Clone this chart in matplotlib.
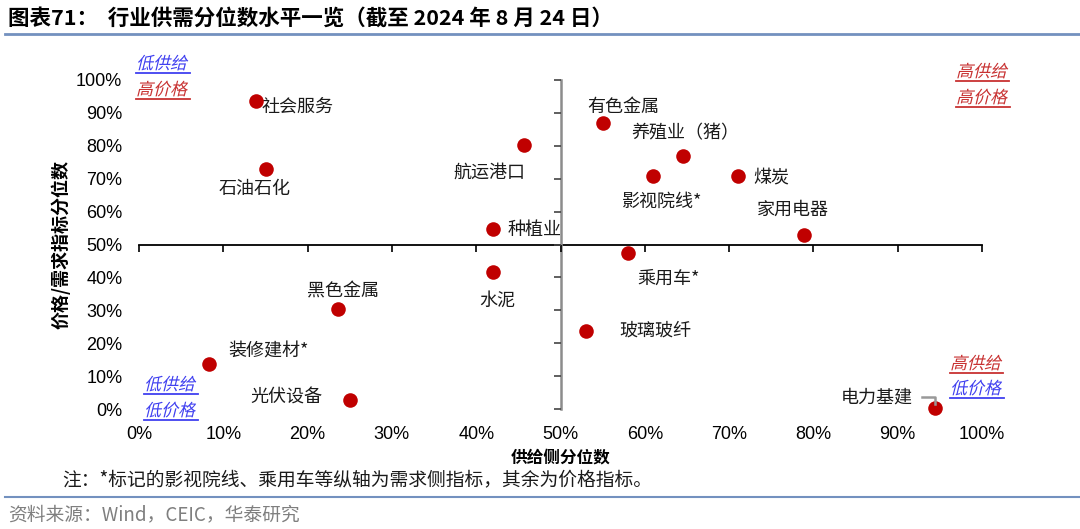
import numpy as np
import matplotlib.pyplot as plt
from matplotlib.textpath import TextPath
from matplotlib.patches import PathPatch
from matplotlib.font_manager import FontProperties
from matplotlib.transforms import Affine2D

plt.rcParams['font.family'] = ['Noto Sans CJK SC', 'DejaVu Sans']

# 供给侧分位数 / 价格(需求)指标分位数
industries = ['社会服务', '石油石化', '航运港口', '有色金属', '养殖业（猪）', '影视院线*',
              '煤炭', '家用电器', '种植业', '乘用车*', '水泥', '黑色金属', '玻璃玻纤',
              '装修建材*', '光伏设备', '电力基建']
supply = [0.139, 0.151, 0.457, 0.551, 0.645, 0.610, 0.710, 0.789, 0.420, 0.580,
          0.420, 0.236, 0.530, 0.083, 0.250, 0.944]
price = [0.936, 0.730, 0.803, 0.870, 0.770, 0.709, 0.709, 0.530, 0.548, 0.473,
         0.415, 0.303, 0.236, 0.136, 0.027, 0.003]
# label offsets in pixels (dx, dy, ha)
offsets = [(5, -6, 'left'), (-12, -20, 'center'), (-35, -28, 'center'), (20, 16, 'center'),
           (3, 22, 'center'), (9, -26, 'center'), (16, -2, 'left'), (-11, 25, 'center'),
           (15, -1, 'left'), (41, -25, 'center'), (4, -28, 'center'), (5, 18, 'center'),
           (34, 1, 'left'), (60, 13, 'center'), (-63, 3, 'center'), (-22, 10, 'right')]

ticks = np.arange(0, 1.01, 0.1)
tick_labels = [f'{int(round(t * 100))}%' for t in ticks]

RED = '#C00000'
LRED = '#C83232'
BLUE = '#4040F0'

W, H = 1080, 529
fig = plt.figure(figsize=(W / 100, H / 100), dpi=100)
ax = fig.add_axes([139 / W, 1 - 409 / H, (982 - 139) / W, (409 - 80) / H])
ax.set_xlim(0, 1)
ax.set_ylim(0, 1)
for sp in ax.spines.values():
    sp.set_visible(False)
ax.set_xticks(ticks)
ax.set_xticklabels(tick_labels, family='Liberation Sans', fontsize=13)
ax.set_yticks(ticks)
ax.set_yticklabels(tick_labels, family='Liberation Sans', fontsize=13)
ax.tick_params(length=0, pad=12)

# center cross lines
ax.plot([0, 1], [0.5, 0.5], color='black', lw=1.3, clip_on=False, zorder=2)
ax.plot([0.5, 0.5], [0, 1], color='#8c8c8c', lw=1.8, clip_on=False, zorder=2)
ax.plot(ticks, np.full_like(ticks, 0.5), ls='', marker=3, ms=5, mew=1.2,
        color='black', clip_on=False)
ax.plot(np.full_like(ticks, 0.5), ticks, ls='', marker=0, ms=5, mew=1.2,
        color='#444444', clip_on=False)

ax.scatter(supply, price, s=110, color=RED, zorder=4, clip_on=False, linewidths=0)
for name, x, y, (dx, dy, ha) in zip(industries, supply, price, offsets):
    ax.annotate(name, (x, y), xytext=(dx * 0.72, dy * 0.72), textcoords='offset points',
                ha=ha, va='center', fontsize=13, color='#1a1a1a')

# connector for 电力基建
i = industries.index('电力基建')
px, py = ax.transData.transform((supply[i], price[i]))
fig.add_artist(plt.Line2D([-13, 0, 0], [11, 11, 4],
                          transform=Affine2D().translate(px, py),
                          color='#999999', lw=1.8))

ax.set_xlabel('供给侧分位数', fontsize=12, fontweight='bold', labelpad=4)
ax.set_ylabel('价格/需求指标分位数', fontsize=13, fontweight='bold', labelpad=4)

fp = FontProperties(family='Noto Sans CJK SC')


def slanted(s, xpx, ypx, color, size=17):
    """Draw italic underlined text with its left edge at xpx, baseline at ypx (top-origin)."""
    tp = TextPath((0, 0), s, size=size, prop=fp)
    tr = Affine2D().skew_deg(14, 0).translate(xpx, H - ypx)
    fig.patches.append(PathPatch(tp, transform=tr, color=color, lw=0))
    w = tp.get_extents().width
    fig.add_artist(plt.Line2D([xpx, xpx + w + 4], [H - ypx - 4, H - ypx - 4],
                              transform=Affine2D(), color=color, lw=1.3))


slanted('低供给', 136, 69, BLUE)
slanted('高价格', 136, 95, LRED)
slanted('高供给', 956, 77, LRED)
slanted('高价格', 956, 103, LRED)
slanted('低供给', 144, 390, BLUE)
slanted('低价格', 144, 416, BLUE)
slanted('高供给', 950, 369, LRED)
slanted('低价格', 950, 394, BLUE)

fig.text(8 / W, 1 - 18 / H, '图表71：  行业供需分位数水平一览（截至 2024 年 8 月 24 日）',
         fontsize=15.5, fontweight='bold', va='center', ha='left')
fig.add_artist(plt.Line2D([5 / W, 1], [1 - 34 / H] * 2, color='#7391BF', lw=2))
fig.text(62 / W, 1 - 480 / H, '注：*标记的影视院线、乘用车等纵轴为需求侧指标，其余为价格指标。',
         fontsize=13.5, va='center', ha='left', color='#1a1a1a')
fig.add_artist(plt.Line2D([5 / W, 1], [1 - 497 / H] * 2, color='#7391BF', lw=1.5))
fig.text(8 / W, 1 - 515 / H, '资料来源：Wind，CEIC，华泰研究', fontsize=13.5, va='center',
         ha='left', color='#7f7f7f')

fig.savefig('out.png', dpi=100)
